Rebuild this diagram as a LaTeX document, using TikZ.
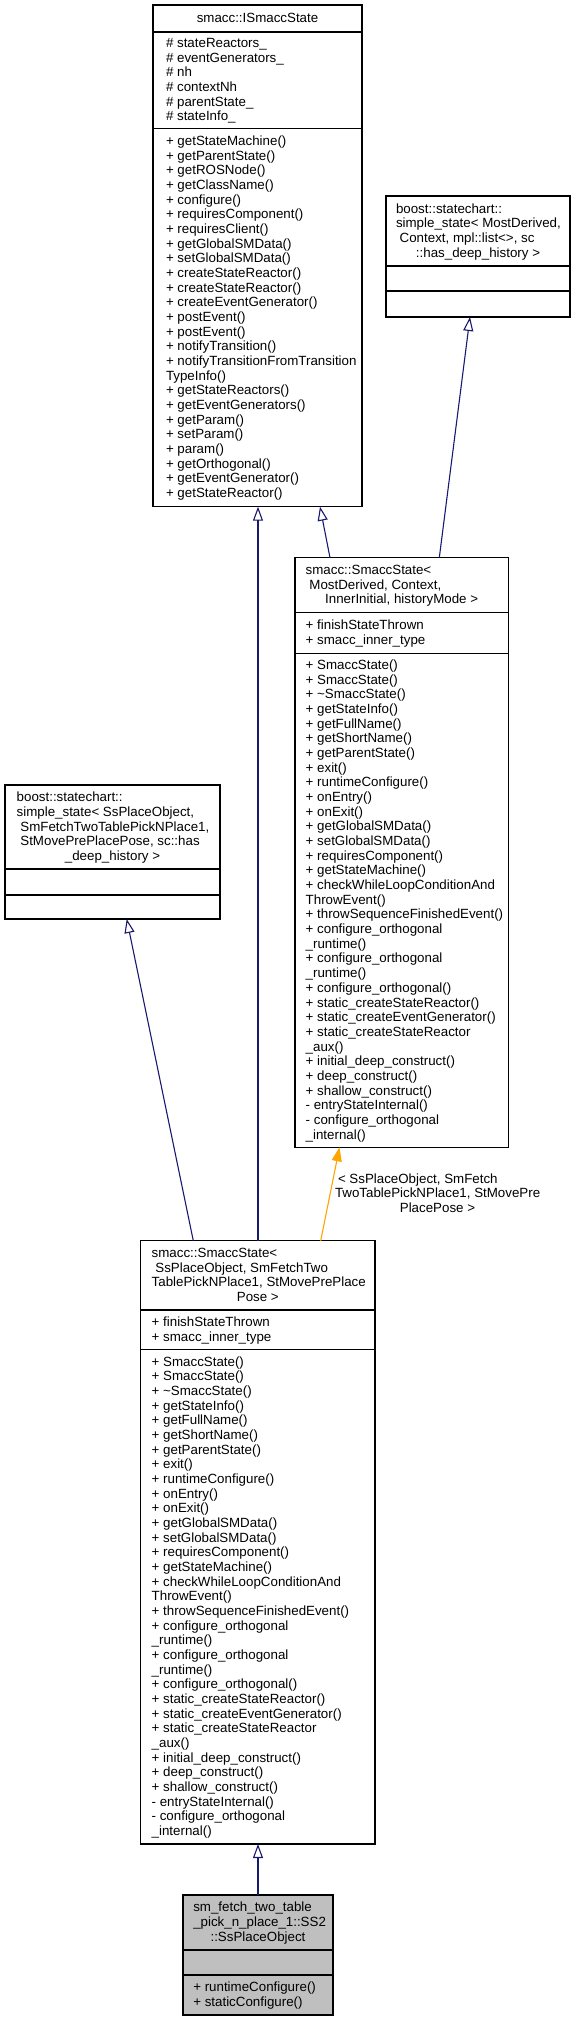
\documentclass[tikz,border=0pt]{standalone}
\usepackage{fontspec}
\setmainfont{Liberation Sans}
\usetikzlibrary{arrows.meta}
\definecolor{edgeblue}{RGB}{25,25,112}
\definecolor{tmplorange}{RGB}{255,165,0}
\definecolor{boxgray}{RGB}{191,191,191}
\newcommand{\Sx}{\rule[-3.33pt]{0pt}{14.67pt}}
\newcommand{\Sp}{\hspace*{3.7pt}}
\newcommand{\SmaccMethods}{\Sx+ SmaccState()\\%
+ SmaccState()\\%
+ \textasciitilde SmaccState()\\%
+ getStateInfo()\\%
+ getFullName()\\%
+ getShortName()\\%
+ getParentState()\\%
+ exit()\\%
+ runtimeConfigure()\\%
+ onEntry()\\%
+ onExit()\\%
+ getGlobalSMData()\\%
+ setGlobalSMData()\\%
+ requiresComponent()\\%
+ getStateMachine()\\%
+ checkWhileLoopConditionAnd\\%
ThrowEvent()\\%
+ throwSequenceFinishedEvent()\\%
+ configure\_orthogonal\\%
\_runtime()\\%
+ configure\_orthogonal\\%
\_runtime()\\%
+ configure\_orthogonal()\\%
+ static\_createStateReactor()\\%
+ static\_createEventGenerator()\\%
+ static\_createStateReactor\\%
\_aux()\\%
+ initial\_deep\_construct()\\%
+ deep\_construct()\\%
+ shallow\_construct()\\%
- entryStateInternal()\\%
- configure\_orthogonal\\%
\_internal()\Sx}
\begin{document}
\begin{tikzpicture}[x=1pt,y=-1pt,
  cls/.style={draw=black, line width=1.1pt, fill=white, inner sep=0pt, outer sep=0pt, anchor=north west},
  txt/.style={inner sep=0pt, outer sep=0pt, anchor=west, align=left, font=\fontsize{13.33}{14.67}\selectfont},
  ctxt/.style={inner sep=0pt, outer sep=0pt, anchor=center, font=\fontsize{13.33}{14.67}\selectfont},
  sepline/.style={line width=1.1pt, draw=black},
  inh/.style={draw=edgeblue, line width=1.1pt, -{Triangle[open, length=14pt, width=10pt]}},
  tmpl/.style={draw=tmplorange, line width=1.1pt, -{Triangle[length=14pt, width=10pt, fill=tmplorange]}}
]
\useasboundingbox (0,0) rectangle (575,2021);

% ---------- boxes ----------
\node[cls, minimum width=209pt, minimum height=501.7pt] (A) at (153,5) {};
\node[cls, minimum width=184pt, minimum height=121pt] (B) at (386,196) {};
\node[cls, minimum width=213.3pt, minimum height=589.6pt] (C) at (295,557.7) {};
\node[cls, minimum width=215pt, minimum height=134pt] (D) at (5,785) {};
\node[cls, minimum width=234.3pt, minimum height=603.3pt] (E) at (140.7,1240.7) {};
\node[cls, fill=boxgray, minimum width=150pt, minimum height=120pt] (F) at (183,1895) {};

% ---------- dividers ----------
\draw[sepline] (A.west |- 0,32) -- (A.east |- 0,32);
\draw[sepline] (A.west |- 0,128.3) -- (A.east |- 0,128.3);
\draw[sepline] (B.west |- 0,266) -- (B.east |- 0,266);
\draw[sepline] (B.west |- 0,291) -- (B.east |- 0,291);
\draw[sepline] (C.west |- 0,612.7) -- (C.east |- 0,612.7);
\draw[sepline] (C.west |- 0,653.3) -- (C.east |- 0,653.3);
\draw[sepline] (D.west |- 0,869) -- (D.east |- 0,869);
\draw[sepline] (D.west |- 0,895) -- (D.east |- 0,895);
\draw[sepline] (E.west |- 0,1310) -- (E.east |- 0,1310);
\draw[sepline] (E.west |- 0,1349.3) -- (E.east |- 0,1349.3);
\draw[sepline] (F.west |- 0,1950) -- (F.east |- 0,1950);
\draw[sepline] (F.west |- 0,1975) -- (F.east |- 0,1975);

% ---------- texts ----------
\node[ctxt] (At) at (257.5,18.5) {\Sx smacc::ISmaccState};
\node[txt] (Aa) at (166,80.2) {\Sx\# stateReactors\_\\%
\# eventGenerators\_\\%
\# nh\\%
\# contextNh\\%
\# parentState\_\\%
\# stateInfo\_\Sx};
\node[txt] (Am) at (166,317.5) {\Sx+ getStateMachine()\\%
+ getParentState()\\%
+ getROSNode()\\%
+ getClassName()\\%
+ configure()\\%
+ requiresComponent()\\%
+ requiresClient()\\%
+ getGlobalSMData()\\%
+ setGlobalSMData()\\%
+ createStateReactor()\\%
+ createStateReactor()\\%
+ createEventGenerator()\\%
+ postEvent()\\%
+ postEvent()\\%
+ notifyTransition()\\%
+ notifyTransitionFromTransition\\%
TypeInfo()\\%
+ getStateReactors()\\%
+ getEventGenerators()\\%
+ getParam()\\%
+ setParam()\\%
+ param()\\%
+ getOrthogonal()\\%
+ getEventGenerator()\\%
+ getStateReactor()\Sx};

\node[txt] (Bt) at (396,231) {\Sx boost::statechart::\\%
simple\_state< MostDerived,\\%
\Sp Context, mpl::list<>, sc\\%
\makebox[164pt][c]{::has\_deep\_history >}\Sx};

\node[txt] (Ct) at (305.7,585.2) {\Sx smacc::SmaccState<\\%
\Sp MostDerived, Context,\\%
\makebox[191.9pt][c]{InnerInitial, historyMode >}\Sx};
\node[txt] (Ca) at (305.7,633) {\Sx+ finishStateThrown\\%
+ smacc\_inner\_type\Sx};
\node[txt] (Cm) at (305.7,900.3) {\SmaccMethods};

\node[txt] (Dt) at (16.7,827) {\Sx boost::statechart::\\%
simple\_state< SsPlaceObject,\\%
\Sp SmFetchTwoTablePickNPlace1,\\%
\Sp StMovePrePlacePose, sc::has\\%
\makebox[191.6pt][c]{\_deep\_history >}\Sx};

\node[txt] (Et) at (151.7,1275.5) {\Sx smacc::SmaccState<\\%
\Sp SsPlaceObject, SmFetchTwo\\%
TablePickNPlace1, StMovePrePlace\\%
\makebox[212.3pt][c]{Pose >}\Sx};
\node[txt] (Ea) at (151.7,1329.7) {\Sx+ finishStateThrown\\%
+ smacc\_inner\_type\Sx};
\node[txt] (Em) at (151.7,1596.7) {\SmaccMethods};

\node[txt] (Ft) at (193.3,1922.5) {\Sx sm\_fetch\_two\_table\\%
\_pick\_n\_place\_1::SS2\\%
\makebox[129.4pt][c]{::SsPlaceObject}\Sx};
\node[txt] (Fm) at (193.3,1995) {\Sx+ runtimeConfigure()\\%
+ staticConfigure()\Sx};

% ---------- edges ----------
\draw[inh] (C.north -| 330,0) -- (A.south -| 320,0);
\draw[inh] (C.north -| 439.3,0) -- (B.south -| 470,0);
\draw[inh] (E.north -| 258,0) -- (A.south -| 258,0);
\draw[inh] (E.north -| 193.3,0) -- (D.south -| 126.7,0);
\draw[tmpl] (E.north -| 320.7,0) -- (C.south -| 339.5,0);
\draw[inh] (F.north) -- (E.south -| 258,0);

\node[txt] (lbl) at (335,1193.67) {\Sx\hspace*{3pt}< SsPlaceObject, SmFetch\\%
TwoTablePickNPlace1, StMovePre\\%
\makebox[205pt][c]{PlacePose >}\Sx};
\end{tikzpicture}
\end{document}
